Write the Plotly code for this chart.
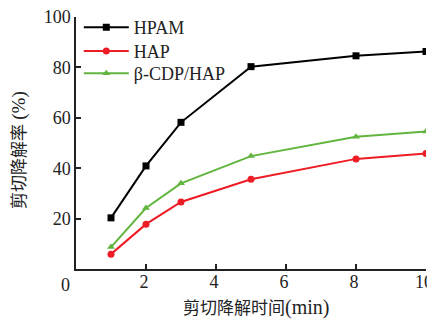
import plotly.graph_objects as go

time_min = [1, 2, 3, 5, 8, 10]
hpam = [20.3, 40.9, 58.2, 80.3, 84.6, 86.3]
hap = [5.9, 17.8, 26.6, 35.6, 43.7, 45.8]
cdp_hap = [8.7, 24.2, 34.0, 44.8, 52.5, 54.6]

series_names = ["HPAM", "HAP", "β-CDP/HAP"]
colors = ["#000000", "#ee1c24", "#62b53e"]
symbols = ["square", "circle", "triangle-up"]

x_ticks = [0, 2, 4, 6, 8, 10]
y_ticks = [20, 40, 60, 80, 100]

legend_ids = ["legend", "legend2", "legend3"]
legend_y = [0.958, 0.864, 0.776]

fig = go.Figure()
for name, vals, c, s, lg in zip(series_names, [hpam, hap, cdp_hap], colors, symbols, legend_ids):
    fig.add_trace(go.Scatter(
        x=time_min, y=vals, name=name, mode="lines+markers",
        line=dict(color=c, width=2),
        marker=dict(symbol=s, size=7, color=c),
        legend=lg,
    ))

serif = "Liberation Serif, Times New Roman, serif"
cjk = "Liberation Serif, Noto Sans CJK SC, serif"

legend_common = dict(
    x=0.008, xanchor="left", yanchor="middle",
    bgcolor="rgba(0,0,0,0)", font=dict(family=serif, size=18, color="#222"),
    itemwidth=45,
)

# page body has an 8px default margin; figure is sized to fill the rest
fig.update_layout(
    width=427, height=312,
    margin=dict(l=68, r=9, t=9, b=51, autoexpand=False),
    plot_bgcolor="white", paper_bgcolor="white",
    font=dict(family=serif, size=18, color="#222"),
    showlegend=True,
    legend=dict(y=legend_y[0], **legend_common),
    legend2=dict(y=legend_y[1], **legend_common),
    legend3=dict(y=legend_y[2], **legend_common),
    xaxis=dict(
        range=[0, 10], tickvals=x_ticks,
        ticktext=["" if v == 0 else str(v) for v in x_ticks],
        ticks="inside", ticklen=5, tickwidth=1.5, tickcolor="#222",
        showline=True, linecolor="#222", linewidth=1.5, showgrid=False, zeroline=False,
        tickfont=dict(family=serif, size=18), automargin=False,
        ticklabeloverflow="allow", ticklabelstandoff=-4, ticklabelshift=-2,
    ),
    yaxis=dict(
        range=[0, 100], tickvals=y_ticks,
        ticks="inside", ticklen=5, tickwidth=1.5, tickcolor="#222",
        showline=True, linecolor="#222", linewidth=1.5, showgrid=False, zeroline=False,
        tickfont=dict(family=serif, size=18), automargin=False,
        ticklabeloverflow="allow",
    ),
    annotations=[
        dict(text=str(x_ticks[0]), xref="x", yref="paper", x=x_ticks[0], y=0,
             xanchor="center", yanchor="top", xshift=-11, yshift=-4, showarrow=False,
             font=dict(family=serif, size=18, color="#222")),
        dict(text="剪切降解时间<span style='font-size:20px'>(min)</span>",
             xref="paper", yref="paper", x=0.514, y=-0.152,
             xanchor="center", yanchor="middle", showarrow=False, font=dict(family=cjk, size=17)),
        dict(text="剪切降解率 <span style='font-size:19px'>(%)</span>",
             xref="paper", yref="paper", x=-0.163, y=0.472,
             xanchor="center", yanchor="middle", textangle=-90, showarrow=False,
             font=dict(family=cjk, size=17)),
    ],
)

fig.write_html("out.html")
